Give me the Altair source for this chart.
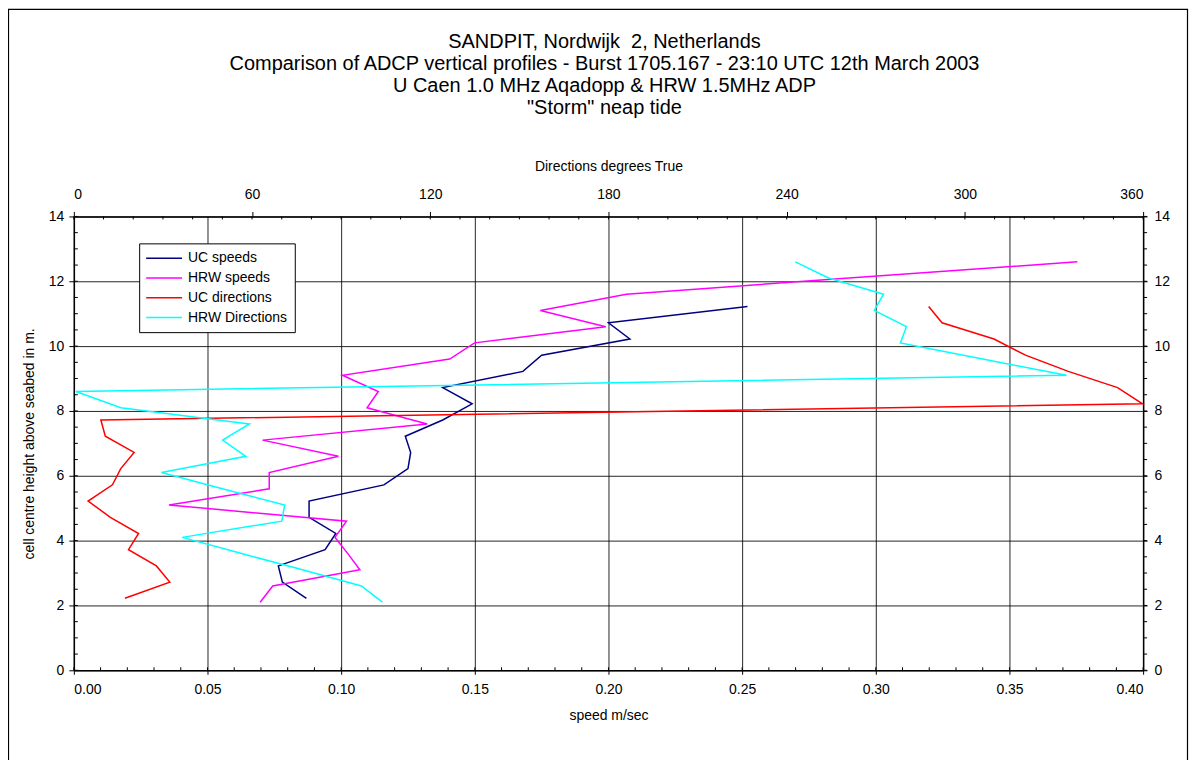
import altair as alt
import pandas as pd

FONT = "Liberation Sans"
W, H = 1072, 455

# ---- data (bottom to top) ----
uc_height = [2.22, 2.72, 3.22, 3.72, 4.22, 4.72, 5.22, 5.72, 6.22, 6.72,
             7.22, 7.72, 8.22, 8.72, 9.22, 9.72, 10.22, 10.72, 11.22]
uc_speed = [0.087, 0.078, 0.0765, 0.094, 0.098, 0.088, 0.088, 0.116, 0.125, 0.126,
            0.124, 0.138, 0.149, 0.138, 0.168, 0.175, 0.208, 0.200, 0.252]
uc_dir = [17.2, 32.3, 27.8, 18.4, 21.8, 12.3, 4.8, 13.0, 15.8, 20.3,
          10.6, 9.1, 359.8, 351.4, 334.8, 320.4, 309.8, 292.3, 287.8]

hrw_height = [2.1, 2.6, 3.1, 3.6, 4.1, 4.6, 5.1, 5.6, 6.1, 6.6, 7.1,
              7.6, 8.1, 8.6, 9.1, 9.6, 10.1, 10.6, 11.1, 11.6, 12.1, 12.6]
hrw_speed = [0.0697, 0.0744, 0.107, 0.1025, 0.0977, 0.102, 0.0356, 0.0731, 0.0731, 0.099, 0.0706,
             0.1322, 0.1097, 0.1139, 0.1005, 0.1406, 0.1499, 0.199, 0.1745, 0.2067, 0.29, 0.3754]
hrw_dir = [103.9, 96.8, 77.0, 56.5, 36.5, 70.0, 71.0, 50.0, 29.5, 57.9, 50.1,
           59.1, 15.8, 0.7, 334.2, 306.0, 278.3, 280.3, 269.5, 272.6, 254.1, 242.9]

series_names = ["UC speeds", "HRW speeds", "UC directions", "HRW Directions"]
series_colors = ["#000080", "#FF00FF", "#FF0000", "#00FFFF"]

speed_ticks = [0.0, 0.05, 0.10, 0.15, 0.20, 0.25, 0.30, 0.35, 0.40]
dir_ticks = [0, 60, 120, 180, 240, 300, 360]
height_ticks = [0, 2, 4, 6, 8, 10, 12, 14]
speed_minor = [i / 100 for i in range(41)]
dir_minor = [i * 10 for i in range(37)]
height_minor = [i / 2 for i in range(29)]

title_lines = [
    "SANDPIT, Nordwijk\u00a0 2, Netherlands",
    "Comparison of ADCP vertical profiles - Burst 1705.167 - 23:10 UTC 12th March 2003",
    "U Caen 1.0 MHz Aqadopp & HRW 1.5MHz ADP",
    "\"Storm\" neap tide",
]

speed_df = pd.concat([
    pd.DataFrame({"height": uc_height, "value": uc_speed, "series": series_names[0]}),
    pd.DataFrame({"height": hrw_height, "value": hrw_speed, "series": series_names[1]}),
])
dir_df = pd.concat([
    pd.DataFrame({"height": uc_height, "value": uc_dir, "series": series_names[2]}),
    pd.DataFrame({"height": hrw_height, "value": hrw_dir, "series": series_names[3]}),
])

color = alt.Color(
    "series:N",
    scale=alt.Scale(domain=series_names, range=series_colors),
    legend=alt.Legend(
        orient="none", legendX=65.5, legendY=27, direction="vertical", title=None,
        symbolType="M-2.571,0H2.571", symbolSize=196, symbolStrokeWidth=1.5,
        symbolOffset=10, labelOffset=16, rowPadding=4.8, padding=7,
        strokeColor="black", fillColor="white",
        labelFont=FONT, labelFontSize=14, labelColor="black",
    ),
)

x_speed_scale = alt.Scale(domain=[0, 0.4], nice=False, zero=False)
x_dir_scale = alt.Scale(domain=[0, 360], nice=False, zero=False)
y_scale = alt.Scale(domain=[0, 14], nice=False, zero=False)

speed_lines = alt.Chart(speed_df).mark_line(strokeWidth=1.5).encode(
    x=alt.X("value:Q", scale=x_speed_scale,
            axis=alt.Axis(orient="bottom", values=speed_ticks, format=".2f",
                          title="speed m/sec", grid=True, tickSize=4,
                          labelPadding=8, titlePadding=12)),
    y=alt.Y("height:Q", scale=y_scale,
            axis=alt.Axis(orient="left", values=height_ticks, format="d",
                          title="cell centre height above seabed in m.", grid=True,
                          tickSize=5, labelPadding=5, titlePadding=12)),
    color=color,
    order="height:Q",
)

bottom_minor = alt.Chart(pd.DataFrame({"value": speed_minor})).mark_rule(
    color="black", strokeWidth=1).encode(
    x=alt.X("value:Q", scale=x_speed_scale), y=alt.value(H - 3), y2=alt.value(H))
left_minor = alt.Chart(pd.DataFrame({"height": height_minor})).mark_rule(
    color="black", strokeWidth=1).encode(
    y=alt.Y("height:Q", scale=y_scale), x=alt.value(0), x2=alt.value(4))
frame = alt.Chart(pd.DataFrame({"k": [0]})).mark_rect(
    fillOpacity=0, stroke="black", strokeWidth=1.2).encode(
    x=alt.value(-65.5), x2=alt.value(W + 44.5), y=alt.value(-207.5), y2=alt.value(H + 130))

layer_a = alt.layer(frame, speed_lines, bottom_minor, left_minor)

dir_lines = alt.Chart(dir_df).mark_line(strokeWidth=1.5).encode(
    x=alt.X("value:Q", scale=x_dir_scale,
            axis=alt.Axis(orient="top", values=dir_ticks, format="d",
                          title="Directions degrees True", grid=False, tickSize=5,
                          labelPadding=10, titlePadding=14)),
    y=alt.Y("height:Q", scale=y_scale,
            axis=alt.Axis(orient="right", values=height_ticks, format="d", title=None,
                          grid=False, tickSize=4, labelPadding=7)),
    color=color,
    order="height:Q",
)
top_minor = alt.Chart(pd.DataFrame({"value": dir_minor})).mark_rule(
    color="black", strokeWidth=1).encode(
    x=alt.X("value:Q", scale=x_dir_scale), y=alt.value(0), y2=alt.value(3))
right_minor = alt.Chart(pd.DataFrame({"height": height_minor})).mark_rule(
    color="black", strokeWidth=1).encode(
    y=alt.Y("height:Q", scale=y_scale), x=alt.value(W), x2=alt.value(W + 4))

layer_b = alt.layer(dir_lines, top_minor, right_minor)

chart = alt.layer(layer_a, layer_b).resolve_scale(
    x="independent", y="independent"
).properties(
    width=W, height=H,
    padding={"left": 66, "top": 208, "right": 46, "bottom": 100},
    autosize=alt.AutoSizeParams(type="none"),
    title=alt.Title(text=title_lines, font=FONT, fontSize=20, fontWeight="normal",
                    color="black", anchor="middle", frame="group", offset=-109,
                    lineHeight=22, dx=-4),
).configure_view(stroke=None).configure_axis(
    labelFont=FONT, labelFontSize=14, labelColor="black",
    titleFont=FONT, titleFontSize=14, titleFontWeight="normal", titleColor="black",
    domainColor="black", domainWidth=1.5, tickColor="black", tickWidth=1,
    gridColor="black", gridWidth=1, gridOpacity=0.85,
)

chart.save("out.html", embed_options={"renderer": "svg", "actions": False})
